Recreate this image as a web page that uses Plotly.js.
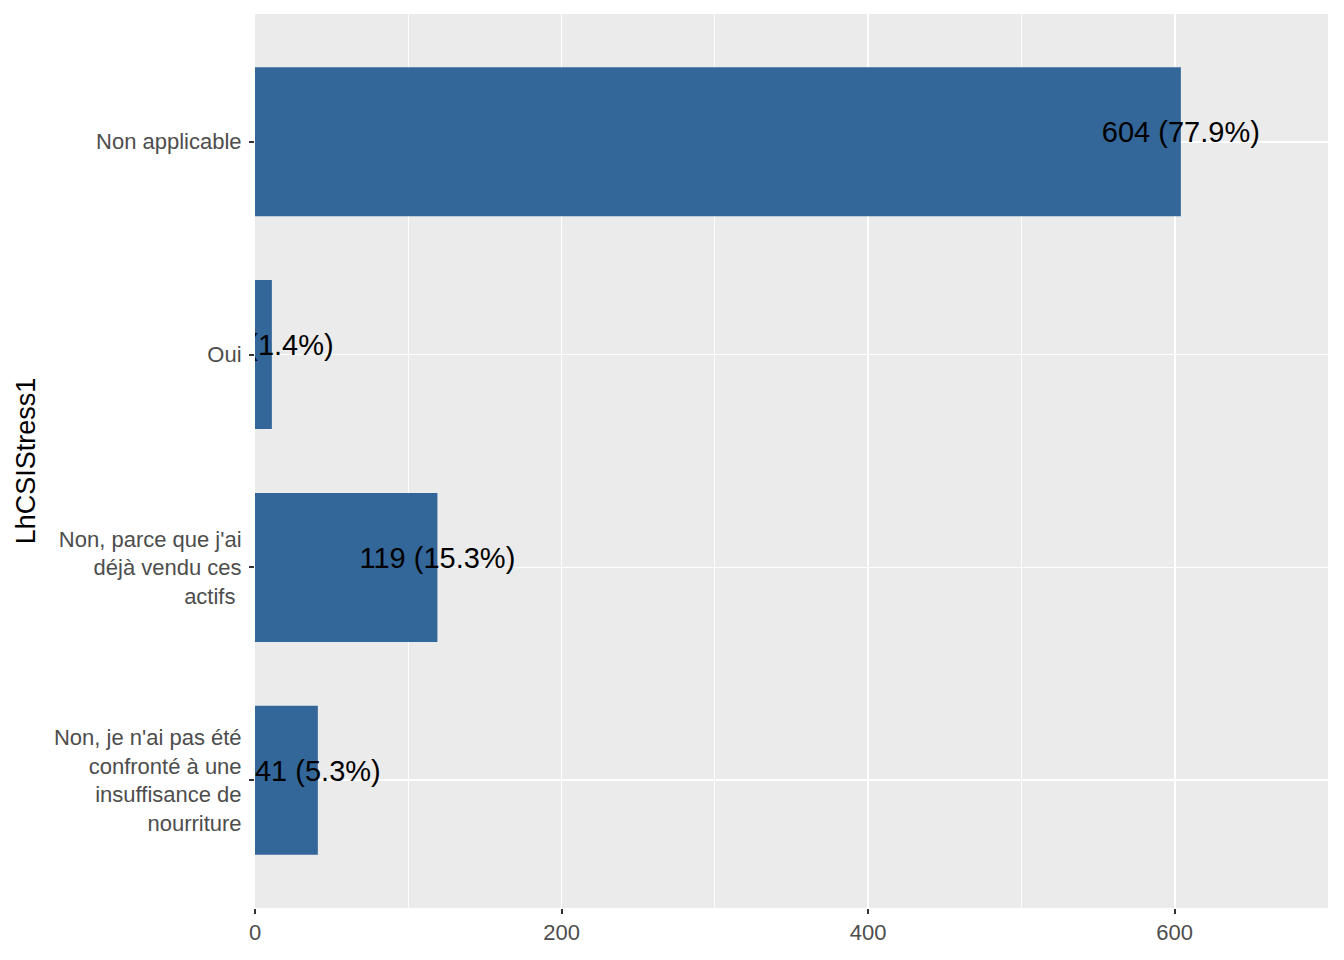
<!DOCTYPE html>
<html>
<head>
<meta charset="utf-8">
<script src="https://cdn.plot.ly/plotly-3.0.1.min.js"></script>
<style>html,body{margin:0;padding:0;background:#fff;}#chart{width:1344px;height:960px;}</style>
</head>
<body>
<div id="chart"></div>
<script>
// Categories listed bottom-to-top
const categories = [
  "Non, je n'ai pas été confronté à une insuffisance de nourriture",
  "Non, parce que j'ai déjà vendu ces actifs",
  "Oui",
  "Non applicable"
];
const tickLabels = [
  "Non, je n'ai pas été<br>confronté à une<br>insuffisance de<br>nourriture",
  "Non, parce que j'ai<br>déjà vendu ces<br>actifs\u00a0",
  "Oui",
  "Non applicable"
];
const counts = [41, 119, 11, 604];
const percents = [5.3, 15.3, 1.4, 77.9];
const xTickVals = [0, 200, 400, 600];
const yAxisTitle = "LhCSIStress1";

const positions = categories.map((c, i) => i);
const labelText = counts.map((c, i) => c + " (" + percents[i].toFixed(1) + "%)");
const labelLift = 0.032;

const font = "Liberation Sans, Arial, sans-serif";

const traces = [
  {
    type: "bar",
    orientation: "h",
    x: counts,
    y: positions,
    width: 0.7,
    marker: {color: "#336699", line: {width: 0}},
    hoverinfo: "skip",
    showlegend: false
  },
  {
    type: "scatter",
    mode: "text",
    x: counts,
    y: positions.map(p => p + labelLift),
    text: labelText,
    textposition: "middle center",
    textfont: {family: font, size: 29, color: "#000000"},
    cliponaxis: true,
    hoverinfo: "skip",
    showlegend: false
  }
];

const layout = {
  width: 1344,
  height: 960,
  margin: {l: 255, r: 16, t: 14, b: 52},
  paper_bgcolor: "#FFFFFF",
  plot_bgcolor: "#EBEBEB",
  font: {family: font},
  showlegend: false,
  xaxis: {
    range: [0, 700],
    tickvals: xTickVals,
    ticktext: xTickVals.map(String),
    ticks: "outside",
    ticklen: 5,
    tickwidth: 2,
    tickcolor: "#333333",
    tickfont: {family: font, size: 22, color: "#4D4D4D"},
    showgrid: true,
    gridcolor: "#FFFFFF",
    gridwidth: 1.8,
    minor: {dtick: 100, tick0: 0, showgrid: true, gridcolor: "#FFFFFF", gridwidth: 0.9, ticks: ""},
    zeroline: false,
    showline: false,
    fixedrange: true
  },
  yaxis: {
    range: [-0.6, 3.6],
    tickvals: positions,
    ticktext: tickLabels,
    ticks: "outside",
    ticklen: 5,
    tickwidth: 2,
    tickcolor: "#333333",
    ticklabelstandoff: 3,
    tickfont: {family: font, size: 22, color: "#4D4D4D"},
    showgrid: true,
    gridcolor: "#FFFFFF",
    gridwidth: 1.8,
    zeroline: false,
    showline: false,
    title: {text: yAxisTitle, font: {family: font, size: 27, color: "#000000"}, standoff: 10},
    fixedrange: true
  }
};

Plotly.newPlot("chart", traces, layout, {displayModeBar: false, staticPlot: true});
</script>
</body>
</html>
